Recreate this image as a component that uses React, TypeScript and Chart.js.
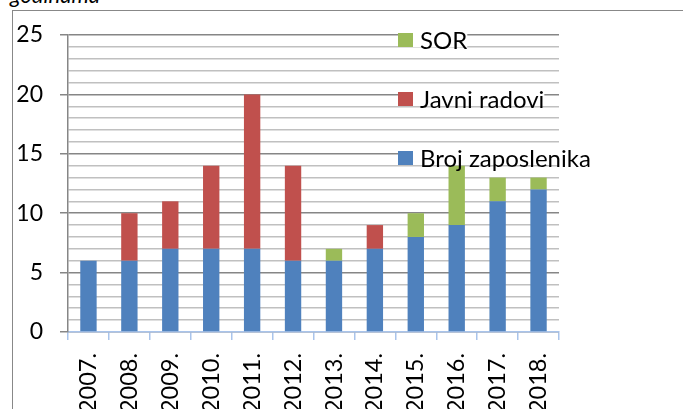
import React, { useEffect, useRef } from 'react';
import { Chart, registerables } from 'chart.js';

Chart.register(...registerables);

const categories = ['2007.', '2008.', '2009.', '2010.', '2011.', '2012.', '2013.', '2014.', '2015.', '2016.', '2017.', '2018.'];
const brojZaposlenika = [6, 6, 7, 7, 7, 6, 6, 7, 8, 9, 11, 12];
const javniRadovi = [0, 4, 4, 7, 13, 8, 0, 2, 0, 0, 0, 0];
const sor = [0, 0, 0, 0, 0, 0, 1, 0, 2, 5, 2, 1];
const seriesLabels = ['Broj zaposlenika', 'Javni radovi', 'SOR'];
const seriesColors = ['#4f81bd', '#c0504d', '#9bbb59'];
const yMin = 0;
const yMax = 25;
const yMajorStep = 5;
const titleTail = 'godinama';

export default function App() {
  const ref = useRef<HTMLCanvasElement>(null);

  useEffect(() => {
    if (!ref.current) return;
    const legendPlugin = {
      id: 'overlayLegend',
      afterDraw(chart: any) {
        const ctx = chart.ctx;
        ctx.save();
        ctx.font = '24px Lato';
        ctx.textBaseline = 'middle';
        const ds = chart.data.datasets;
        const order = [2, 1, 0];
        order.forEach((di, i) => {
          const cy = 40 + i * 59;
          const x = 398;
          const label = ds[di].label as string;
          const w = ctx.measureText(label).width;
          ctx.fillStyle = '#ffffff';
          ctx.fillRect(x, cy - 8, 22 + w, 15);
          ctx.fillStyle = ds[di].backgroundColor;
          ctx.fillRect(x, cy - 7, 15, 14);
          ctx.fillStyle = '#000000';
          ctx.fillText(label, x + 22, cy + 1);
        });
        ctx.restore();
      },
    };

    const chart = new Chart(ref.current, {
      type: 'bar',
      data: {
        labels: categories,
        datasets: [
          { label: seriesLabels[0], data: brojZaposlenika, backgroundColor: seriesColors[0], borderWidth: 0 },
          { label: seriesLabels[1], data: javniRadovi, backgroundColor: seriesColors[1], borderWidth: 0 },
          { label: seriesLabels[2], data: sor, backgroundColor: seriesColors[2], borderWidth: 0 },
        ],
      },
      options: {
        responsive: false,
        animation: false,
        devicePixelRatio: 1,
        layout: { padding: { top: 35, left: 0, right: 124, bottom: 0 } },
        plugins: {
          legend: { display: false },
          title: { display: false },
          tooltip: { enabled: false },
        },
        datasets: { bar: { categoryPercentage: 1, barPercentage: 0.4 } },
        scales: {
          x: {
            stacked: true,
            offset: true,
            afterFit: (s: any) => { s.height = 77; },
            border: { color: '#a9c4eb', width: 1.5 },
            grid: {
              offset: true,
              drawOnChartArea: false,
              drawTicks: true,
              tickLength: 8,
              color: '#a9c4eb',
              lineWidth: 1.5,
            },
            ticks: {
              autoSkip: false,
              minRotation: 90,
              maxRotation: 90,
              padding: 13,
              color: '#000000',
              font: { family: 'Lato', size: 23.5 },
            },
          },
          y: {
            stacked: true,
            min: yMin,
            max: yMax,
            afterFit: (s: any) => { s.width = 68; },
            border: { color: '#868686', width: 1.5 },
            grid: {
              color: (c: any) => (c.tick && c.tick.value % yMajorStep === 0 ? '#868686' : '#c0c0c0'),
              tickColor: (c: any) => (c.tick && c.tick.value % yMajorStep === 0 ? '#868686' : 'rgba(0,0,0,0)'),
              lineWidth: 1.5,
              tickLength: 8,
            },
            ticks: {
              stepSize: 1,
              autoSkip: false,
              padding: 17,
              color: '#000000',
              font: { family: 'Lato', size: 23 },
              callback: (v: any) => (Number(v) % yMajorStep === 0 ? String(v) : ''),
            },
          },
        },
      },
      plugins: [legendPlugin],
    });
    return () => chart.destroy();
  }, []);

  return (
    <div style={{ position: 'fixed', left: 0, top: 0, width: 683, height: 409, overflow: 'hidden', background: '#ffffff' }}>
      <div style={{ position: 'absolute', left: 12, top: 10, width: 800, height: 500, borderLeft: '1px solid #888888', borderTop: '1px solid #888888' }} />
      <div style={{ position: 'absolute', left: 10, top: -16, font: 'italic 22px Lato', lineHeight: '22px', whiteSpace: 'nowrap', color: '#000' }}>{titleTail}</div>
      <canvas ref={ref} width={683} height={409} style={{ position: 'absolute', left: 0, top: 0, width: 683, height: 409 }} />
    </div>
  );
}
